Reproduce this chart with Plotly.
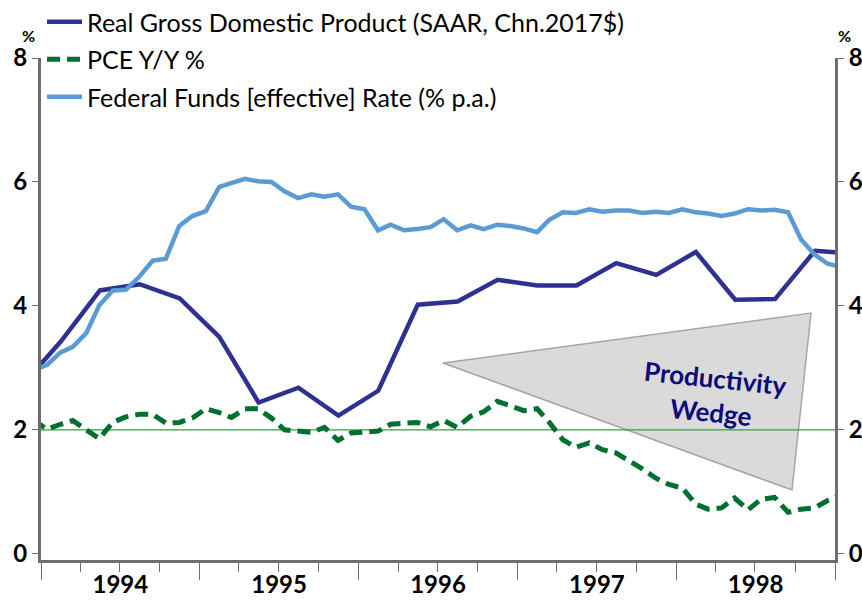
import pandas as pd
import plotly.graph_objects as go

# ---- Data ----
# Quarterly real GDP (Y/Y %), Q4 1993 .. Q1 1999
gdp_quarters = ["1993Q4", "1994Q1", "1994Q2", "1994Q3", "1994Q4",
                "1995Q1", "1995Q2", "1995Q3", "1995Q4",
                "1996Q1", "1996Q2", "1996Q3", "1996Q4",
                "1997Q1", "1997Q2", "1997Q3", "1997Q4",
                "1998Q1", "1998Q2", "1998Q3", "1998Q4", "1999Q1"]
gdp_values = [2.70, 3.42, 4.25, 4.35, 4.12,
              3.50, 2.44, 2.68, 2.23,
              2.63, 4.02, 4.07, 4.42,
              4.33, 4.33, 4.69, 4.50,
              4.87, 4.10, 4.11, 4.89, 4.84]

# Monthly series, Dec 1993 .. Jan 1999
month_start = "1993-12"
month_end = "1999-01"
pce_values = [2.15,
              2.01, 2.09, 2.15, 2.00, 1.86, 2.12, 2.21, 2.25, 2.25, 2.11, 2.12, 2.19,
              2.34, 2.28, 2.20, 2.34, 2.34, 2.19, 2.00, 1.98, 1.96, 2.04, 1.83, 1.95,
              1.97, 1.98, 2.09, 2.11, 2.12, 2.05, 2.15, 2.04, 2.22, 2.29, 2.46, 2.39,
              2.31, 2.34, 2.12, 1.84, 1.72, 1.79, 1.68, 1.63, 1.50, 1.37, 1.22, 1.12,
              1.06, 0.80, 0.72, 0.74, 0.90, 0.71, 0.88, 0.91, 0.67, 0.72, 0.74, 0.86,
              0.95]
fedfunds_values = [2.96,
                   3.05, 3.25, 3.34, 3.56, 4.01, 4.25, 4.26, 4.47, 4.73, 4.76, 5.29, 5.45,
                   5.53, 5.92, 5.98, 6.05, 6.01, 6.00, 5.85, 5.74, 5.80, 5.76, 5.80, 5.60,
                   5.56, 5.22, 5.31, 5.22, 5.24, 5.27, 5.40, 5.22, 5.30, 5.24, 5.31, 5.29,
                   5.25, 5.19, 5.39, 5.51, 5.50, 5.56, 5.52, 5.54, 5.54, 5.50, 5.52, 5.50,
                   5.56, 5.51, 5.49, 5.45, 5.49, 5.56, 5.54, 5.55, 5.51, 5.07, 4.83, 4.68,
                   4.63]

y_ticks = [0, 2, 4, 6, 8]
year_start = "1994-01-01"
year_end = "1999-01-01"

series_names = ["Real Gross Domestic Product (SAAR, Chn.2017$)",
                "PCE Y/Y %",
                "Federal Funds [effective] Rate (% p.a.)"]

# ---- Dates ----
months = pd.period_range(month_start, month_end, freq="M")
month_dates = [m.start_time + pd.Timedelta(days=14) for m in months]
qtrs = pd.PeriodIndex(gdp_quarters, freq="Q")
gdp_dates = [q.start_time + (q.end_time - q.start_time) / 2 for q in qtrs]

NAVY = "#2E3192"
LIGHT = "#5B9BD5"
GREEN = "#00702E"
AXIS = "#6E6E6E"
FONT = "Lato"

fig = go.Figure()
fig.add_trace(go.Scatter(x=gdp_dates, y=gdp_values, mode="lines", name=series_names[0],
                         line=dict(color=NAVY, width=4.5), legendgroup="a"))
fig.add_trace(go.Scatter(x=month_dates, y=pce_values, mode="lines", name=series_names[1],
                         line=dict(color=GREEN, width=5, dash="13px,7px"), legendgroup="b",
                         yaxis="y2"))
fig.add_trace(go.Scatter(x=month_dates, y=fedfunds_values, mode="lines", name=series_names[2],
                         line=dict(color=LIGHT, width=4.5), legendgroup="c"))

yr = [-0.1, 8]
tickfont = dict(family=FONT, size=24, color="black", weight="bold")

W, H = 862, 606
ML, MR, MT, MB = 41, 27, 58, 46
PW, PH = W - ML - MR, H - MT - MB

fig.update_layout(
    width=W, height=H,
    margin=dict(l=ML, r=MR, t=MT, b=MB, autoexpand=False),
    paper_bgcolor="white", plot_bgcolor="white",
    font=dict(family=FONT, color="black"),
    showlegend=True,
    legend=dict(x=0.0013, y=1.1175, xanchor="left", yanchor="top",
                bgcolor="rgba(0,0,0,0)", font=dict(family=FONT, size=25, color="black"),
                traceorder="grouped", tracegroupgap=2, itemwidth=35),
    xaxis=dict(type="date", range=[year_start, year_end], showgrid=False,
               showline=True, linecolor=AXIS, linewidth=3,
               ticks="outside", ticklen=17, tickwidth=1.2, tickcolor=AXIS,
               dtick="M12", tick0=year_start, tickformat="%Y", ticklabelmode="period",
               tickfont=tickfont, ticklabelstandoff=-16,
               minor=dict(dtick="M3", tick0=year_start, ticks="outside", ticklen=9,
                          tickwidth=1.2, tickcolor=AXIS, showgrid=False),
               zeroline=False),
    yaxis=dict(range=yr, tickvals=y_ticks, showgrid=False, zeroline=False,
               showline=True, linecolor=AXIS, linewidth=3, ticks="outside", ticklen=6,
               tickwidth=1.2, tickcolor=AXIS, tickfont=tickfont),
    yaxis2=dict(range=yr, tickvals=y_ticks, overlaying="y", side="right", showgrid=False,
                zeroline=False, showline=True, linecolor=AXIS, linewidth=3, ticks="outside",
                ticklen=6, tickwidth=1.2, tickcolor=AXIS, tickfont=tickfont),
)

# helpers: page pixel -> paper coords
def px(xp):
    return (xp - ML) / PW
def py(yp):
    return (MT + PH - yp) / PH

tri = "M {:.4f},{:.4f} L {:.4f},{:.4f} L {:.4f},{:.4f} Z".format(
    px(443), py(363), px(811), py(313), px(792), py(490))
fig.add_shape(type="path", path=tri, xref="paper", yref="paper",
              fillcolor="#DADADA", line=dict(color="#A6A6A6", width=1.5), layer="below")
fig.add_shape(type="line", xref="paper", x0=0, x1=1, yref="y", y0=2, y1=2,
              line=dict(color="#3A9A4A", width=1.2), layer="below")

wedge_font = dict(family=FONT, size=26, color="#0B0B7A", weight="bold")
fig.add_annotation(text="Productivity", xref="paper", yref="paper",
                   x=px(715), y=py(378), xanchor="center", yanchor="middle",
                   showarrow=False, textangle=6, font=wedge_font)
fig.add_annotation(text="Wedge", xref="paper", yref="paper",
                   x=px(711), y=py(412), xanchor="center", yanchor="middle",
                   showarrow=False, textangle=6, font=wedge_font)

for xpos in (px(28), px(844)):
    fig.add_annotation(text="%", xref="paper", yref="paper", x=xpos, y=py(35),
                       xanchor="center", yanchor="middle",
                       showarrow=False, font=dict(family=FONT, size=16, color="black",
                                                  weight="bold"))

fig.write_html("out.html",
               config={"displayModeBar": False},
               post_script="document.body.style.margin='0';"
                           "document.body.style.overflow='hidden';")
